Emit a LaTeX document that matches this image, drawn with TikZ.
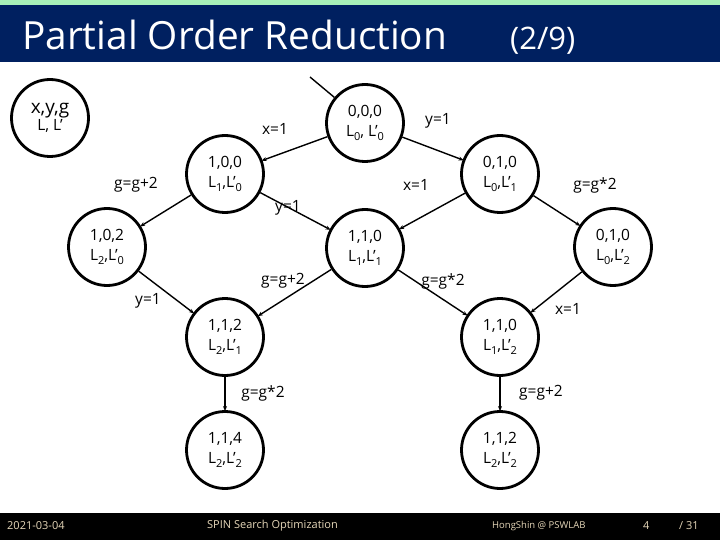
\documentclass[tikz,border=0pt]{standalone}
\usepackage{fontspec}
\setmainfont{Open Sans}
\usetikzlibrary{arrows.meta}
\definecolor{navy}{RGB}{0,32,96}
\definecolor{topgreen}{RGB}{168,240,184}
\definecolor{foot}{RGB}{230,215,185}
\newcommand\lsb[1]{\raisebox{-0.4ex}{\fontsize{11}{11}\selectfont #1}}
\tikzset{
  st/.style={circle, draw, line width=2.8pt, minimum size=77pt, inner sep=0pt,
    align=center, font=\fontsize{15.5}{20}\selectfont},
  tr/.style={line width=1.4pt, -{Stealth[length=5pt,width=4pt]}, shorten >=-1pt},
  lb/.style={font=\fontsize{15.5}{18}\selectfont, inner sep=0pt},
  ft/.style={font=\fontsize{11}{12}\selectfont, text=foot, inner sep=0pt}
}
\begin{document}
\begin{tikzpicture}[x=1pt,y=-1pt]
\useasboundingbox (0,0) rectangle (720,540);
\fill[white] (0,0) rectangle (720,540);
\fill[topgreen] (0,0) rectangle (720,5);
\fill[navy] (0,5) rectangle (720,62);
\node[anchor=base west, text=white, font=\fontsize{38.8}{40}\selectfont, inner sep=0pt] (title) at (22,50) {Partial Order Reduction};
\node[anchor=base west, text=white, font=\fontsize{31}{32}\selectfont, inner sep=0pt] (part) at (510,50) {(2/9)};
\fill[black] (0,513) rectangle (720,540);
\node[ft, anchor=west] (date) at (7,526) {2021-03-04};
\node[ft, anchor=west] (topic) at (207,526) {SPIN Search Optimization};
\node[ft, anchor=west, font=\fontsize{9.5}{11}\selectfont] (auth) at (492,526) {HongShin @ PSWLAB};
\node[ft, anchor=west] (pg) at (643,526) {4};
\node[ft, anchor=west] (tot) at (679,526) {/ 31};

\node[st, font=\fontsize{15.5}{17}\selectfont] (leg) at (50,118) {\fontsize{19}{17}\selectfont x,y,g\\\fontsize{15.5}{17}\selectfont L, L’};
\node[st] (s000) at (365,123) {0,0,0\\L\lsb{0}, L’\lsb{0}};
\node[st] (s100) at (225,174) {1,0,0\\L\lsb{1},L’\lsb{0}};
\node[st] (s010) at (500,174) {0,1,0\\L\lsb{0},L’\lsb{1}};
\node[st] (s102) at (107,247) {1,0,2\\L\lsb{2},L’\lsb{0}};
\node[st] (s110) at (365,248) {1,1,0\\L\lsb{1},L’\lsb{1}};
\node[st] (s010b) at (613,247) {0,1,0\\L\lsb{0},L’\lsb{2}};
\node[st] (s112) at (225,337) {1,1,2\\L\lsb{2},L’\lsb{1}};
\node[st] (s110b) at (500,337) {1,1,0\\L\lsb{1},L’\lsb{2}};
\node[st] (s114) at (225,450) {1,1,4\\L\lsb{2},L’\lsb{2}};
\node[st] (s112b) at (500,450) {1,1,2\\L\lsb{2},L’\lsb{2}};

\coordinate (init) at (310,77);
\draw[line width=1.4pt] (init) -- (s000);
\draw[tr] (s000) -- (s100);
\draw[tr] (s000) -- (s010);
\draw[tr] (s100) -- (s102);
\draw[tr] (s100) -- (s110);
\draw[tr] (s010) -- (s110);
\draw[tr] (s010) -- (s010b);
\draw[tr] (s102) -- (s112);
\draw[tr] (s110) -- (s112);
\draw[tr] (s110) -- (s110b);
\draw[tr] (s010b) -- (s110b);
\draw[tr] (s112) -- (s114);
\draw[tr] (s110b) -- (s112b);

\node[lb] (l1) at (275,129) {x=1};
\node[lb] (l2) at (438,121) {y=1};
\node[lb] (l3) at (136,185) {g=g+2};
\node[lb] (l4) at (288,208) {y=1};
\node[lb] (l5) at (416,185) {x=1};
\node[lb] (l6) at (595,185) {g=g*2};
\node[lb] (l7) at (283,281) {g=g+2};
\node[lb] (l8) at (443,281) {g=g*2};
\node[lb] (l9) at (148,301) {y=1};
\node[lb] (l10) at (568,309) {x=1};
\node[lb] (l11) at (263,393) {g=g*2};
\node[lb] (l12) at (541,393) {g=g+2};
\end{tikzpicture}
\end{document}
